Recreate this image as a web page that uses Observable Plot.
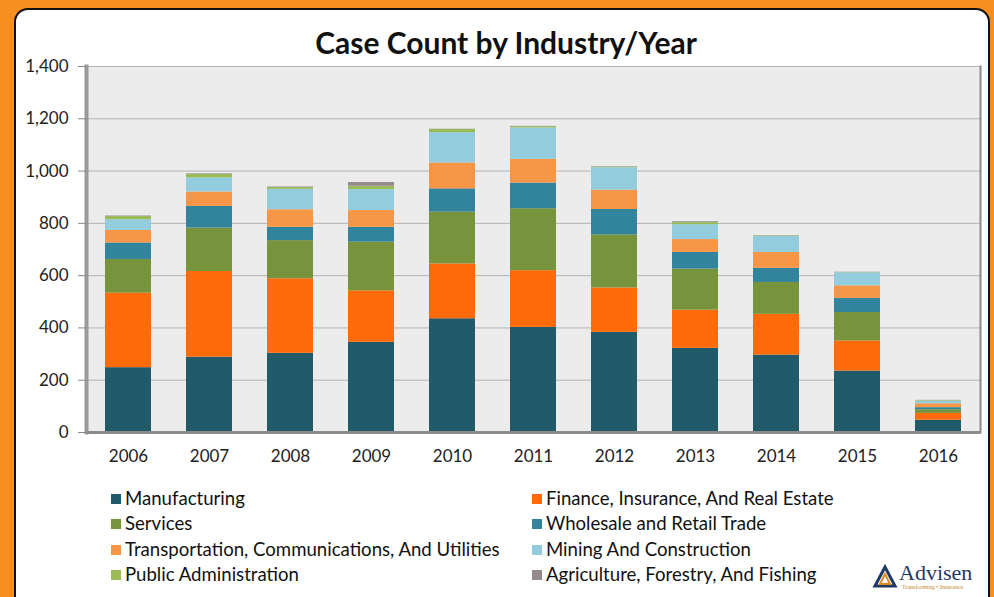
<!DOCTYPE html>
<html><head><meta charset="utf-8">
<script src="https://cdn.jsdelivr.net/npm/d3@7"></script>
<script src="https://cdn.jsdelivr.net/npm/@observablehq/plot@0.6"></script>
<style>
html,body{margin:0;padding:0;}
body{width:994px;height:597px;overflow:hidden;background:#f68f1f;position:relative;font-family:Lato,"Open Sans",sans-serif;}
#panel{position:absolute;left:14px;top:8px;width:976px;height:620px;background:#fff;border:2px solid #111;border-radius:14px;box-sizing:border-box;}
#title{position:absolute;left:0;top:27px;width:1012px;text-align:center;font-size:30px;font-weight:bold;color:#111;line-height:1;}
#chart{position:absolute;left:0;top:0;}
.leg{position:absolute;font-size:18.6px;color:#111;line-height:1;white-space:nowrap;}
.leg span.sw{position:absolute;width:10px;height:10px;left:0;top:5px;}
.leg span.tx{position:absolute;left:14px;top:0;}
#logo{position:absolute;left:872px;top:560px;width:118px;height:32px;}
</style></head>
<body>
<div id="panel"></div>
<div id="title">Case Count by Industry/Year</div>
<div id="chart"></div>
<div id="legend"></div>
<div id="logo"></div>
<script>
const years = ["2006","2007","2008","2009","2010","2011","2012","2013","2014","2015","2016"];
const industries = ["Manufacturing","Finance, Insurance, And Real Estate","Services","Wholesale and Retail Trade","Transportation, Communications, And Utilities","Mining And Construction","Public Administration","Agriculture, Forestry, And Fishing"];
const colors = ["#215a69","#ff6a0a","#77933c","#31849b","#f79646","#93cddd","#9bbb59","#948a8a"];
const manufacturing = [248, 288, 303, 345, 435, 402, 383, 322, 296, 235, 47];
const finance       = [285, 328, 285, 197, 210, 217, 170, 146, 156, 115, 26];
const services      = [129, 166, 146, 186, 198, 237, 203, 157, 122, 109, 14];
const wholesale     = [ 63,  83,  51,  57,  89,  98,  97,  64,  54,  54,  8];
const transport     = [ 48,  55,  67,  64,  99,  91,  74,  49,  61,  48, 15];
const mining        = [ 41,  54,  78,  80, 116, 120,  86,  57,  61,  50, 10];
const publicAdmin   = [ 12,  13,   7,  13,  12,   5,   3,   8,   2,   1,  2];
const agriculture   = [  2,   2,   2,  14,   1,   1,   1,   3,   1,   1,  1];
const yTicks = [0,200,400,600,800,1000,1200,1400];

const seriesValues = [manufacturing, finance, services, wholesale, transport, mining, publicAdmin, agriculture];
const data = industries.flatMap((name, k) => years.map((y, i) => ({year: y, industry: name, value: seriesValues[k][i]})));

const chart = Plot.plot({
  width: 994, height: 470,
  marginTop: 66, marginBottom: 38, marginLeft: 86, marginRight: 14,
  style: {fontFamily: "Lato, 'Open Sans', sans-serif", fontSize: "17px", color: "#222", background: "transparent", overflow: "visible"},
  x: {domain: years, range: [85, 981], paddingInner: 0.435, paddingOuter: 0.2175, label: null},
  y: {domain: [0, 1400], label: null},
  color: {domain: industries, range: colors},
  marks: [
    Plot.frame({fill: "#ececec", stroke: null}),
    Plot.gridY(yTicks, {stroke: "#b4b4b4", strokeOpacity: 1}),
    Plot.frame({anchor: "left", stroke: "#9a9a9a", strokeWidth: 4}),
    Plot.frame({anchor: "right", stroke: "#8a8a8a", strokeWidth: 2}),
    Plot.axisY(yTicks, {tickSize: 8, tickPadding: 10, stroke: "#888", fill: "#222", fontSize: 17, tickFormat: d3.format(",")}),
    Plot.axisX({tickSize: 0, tickPadding: 17, fill: "#222", fontSize: 17}),
    Plot.barY(data, {x: "year", y: "value", fill: "industry"}),
    Plot.ruleY([0], {stroke: "#8c8c8c", strokeWidth: 3})
  ]
});
document.getElementById("chart").appendChild(chart);

// legend
const legend = document.getElementById("legend");
const rowsY = [489, 514, 540, 565];
industries.forEach((name, k) => {
  const col = k % 2, row = Math.floor(k / 2);
  const d = document.createElement("div");
  d.className = "leg";
  d.style.left = (col === 0 ? 111 : 532) + "px";
  d.style.top = rowsY[row] + "px";
  d.innerHTML = `<span class="sw" style="background:${colors[k]}"></span><span class="tx">${name}</span>`;
  legend.appendChild(d);
});

// logo
document.getElementById("logo").innerHTML = `
<svg width="118" height="32" viewBox="0 0 118 32">
  <polygon points="3,26 13,7 23,26" fill="none" stroke="#1f3a66" stroke-width="3"/>
  <polygon points="8,24 13,14 18,24" fill="none" stroke="#e08a1e" stroke-width="2"/>
  <text x="27" y="20" font-family="'Liberation Serif',serif" font-size="22" fill="#1f3a66">Advisen</text>
  <text x="30" y="29" font-family="'Liberation Serif',serif" font-size="6" fill="#c8862a">Transforming • Insurance</text>
</svg>`;
</script>
</body></html>
